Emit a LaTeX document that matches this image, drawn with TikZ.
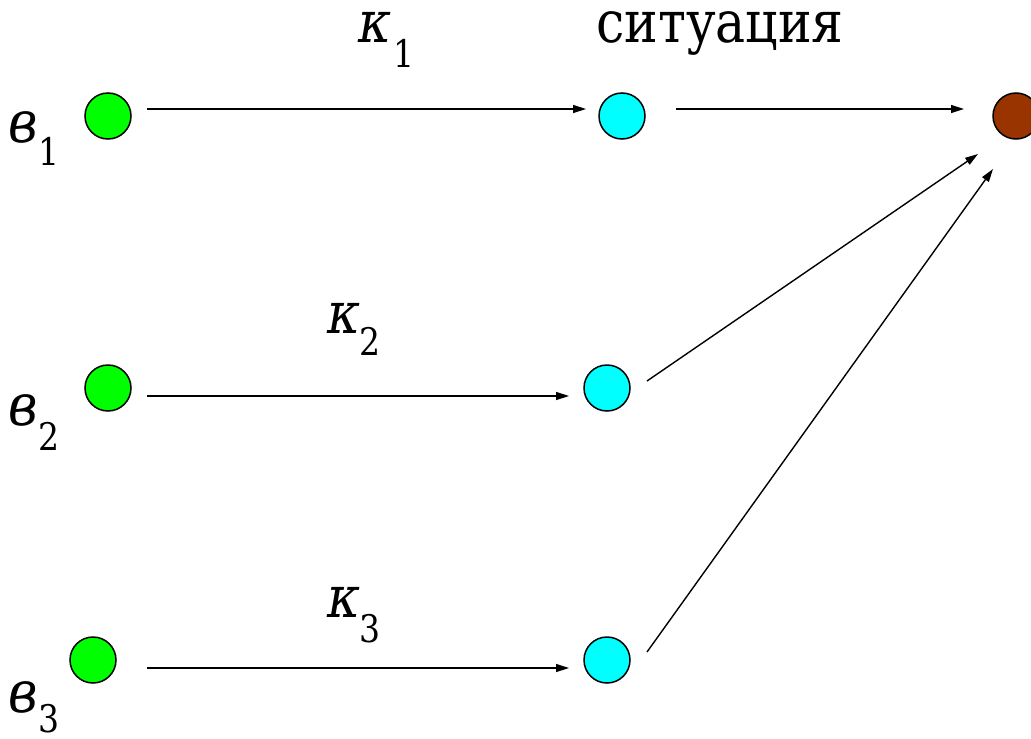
\documentclass[tikz,border=0pt]{standalone}
\usepackage{fontspec}
\setmainfont{DejaVu Serif}
\newfontfamily\tnr{DejaVu Serif}[FakeStretch=0.87]
\usetikzlibrary{arrows.meta}
\definecolor{vgreen}{RGB}{0,255,0}
\definecolor{vcyan}{RGB}{0,255,255}
\definecolor{vbrown}{RGB}{153,51,0}
\begin{document}
\begin{tikzpicture}[x=1pt,y=-1pt,
  dot/.style={circle,draw=black,line width=1.5pt,minimum size=46pt,inner sep=0pt},
  conn/.style={line width=1.4pt,-{Triangle[length=13pt,width=8pt]}},
  lbl/.style={inner sep=0pt,anchor=base west,font=\tnr\fontsize{58}{58}\selectfont\itshape},
  sub/.style={inner sep=0pt,anchor=base west,font=\tnr\fontsize{38}{38}\selectfont},
  ttl/.style={inner sep=0pt,anchor=base west,font=\tnr\fontsize{58}{58}\selectfont}]
\useasboundingbox (0,0) rectangle (1031,739);
% nodes
\node[dot,fill=vgreen] (g1) at (108,116) {};
\node[dot,fill=vgreen] (g2) at (108,388) {};
\node[dot,fill=vgreen] (g3) at (93,660) {};
\node[dot,fill=vcyan] (c1) at (622,116) {};
\node[dot,fill=vcyan] (c2) at (607,388) {};
\node[dot,fill=vcyan] (c3) at (607,660) {};
\node[dot,fill=vbrown] (s) at (1016,116) {};
% labels
\node[lbl] (v1) at (8,142) {в};
\node[sub] (v1s) at (38,165) {1};
\node[lbl] (v2) at (8,425) {в};
\node[sub] (v2s) at (38,450) {2};
\node[lbl] (v3) at (8,712) {в};
\node[sub] (v3s) at (38,732) {3};
\node[lbl] (k1) at (358,42) {κ};
\node[sub] (k1s) at (393,67) {1};
\node[lbl] (k2) at (327,333) {κ};
\node[sub] (k2s) at (359,355) {2};
\node[lbl] (k3) at (327,617) {κ};
\node[sub] (k3s) at (359,642) {3};
\node[ttl] (t) at (596,42) {ситуация};
% connector end points
\coordinate (a1) at (147,109);
\coordinate (b1) at (586,109);
\coordinate (a2) at (147,396);
\coordinate (b2) at (569,396);
\coordinate (a3) at (147,668);
\coordinate (b3) at (569,668);
\coordinate (d1) at (676,109);
\coordinate (e1) at (964,109);
\coordinate (d2) at (647,381);
\coordinate (e2) at (978,154);
\coordinate (d3) at (647,652);
\coordinate (e3) at (993,169);
% connectors
\draw[conn] (a1) -- (b1);
\draw[conn] (a2) -- (b2);
\draw[conn] (a3) -- (b3);
\draw[conn] (d1) -- (e1);
\draw[conn] (d2) -- (e2);
\draw[conn] (d3) -- (e3);
\end{tikzpicture}
\end{document}
